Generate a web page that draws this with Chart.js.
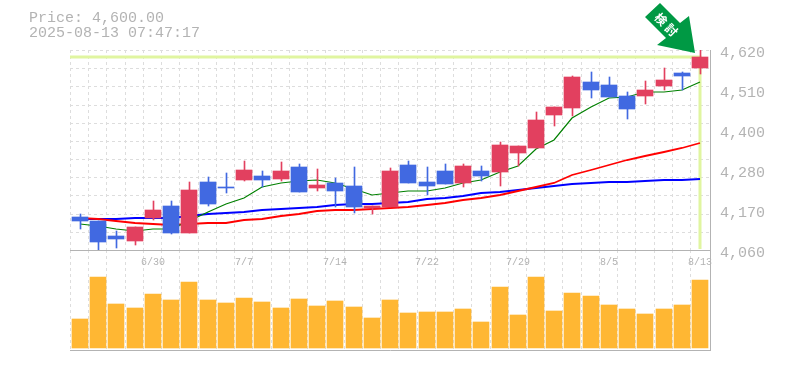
<!DOCTYPE html>
<html>
<head>
<meta charset="utf-8">
<script src="https://cdn.jsdelivr.net/npm/chart.js@4"></script>
<style>
  body { margin: 0; background: #fff; }
  #wrap { position: relative; width: 785px; height: 370px; overflow: hidden; }
  canvas, svg { position: absolute; left: 0; top: 0; }
  #info { position: absolute; left: 29px; top: 11px; font: 15px/15px "Liberation Mono", monospace; color: #b3b3b3; white-space: pre; }
</style>
</head>
<body>
<div id="wrap">
  <canvas id="graficoVol" width="785" height="370"></canvas>
  <canvas id="graficoPrin" width="785" height="370"></canvas>
  <div id="info">Price: 4,600.00
2025-08-13 07:47:17</div>
  <svg width="785" height="370">
    <polygon points="660,3 645,17 666,38 657,45 695,53 689,16 680,23" fill="#009944"/>
    <text transform="translate(668,25) rotate(45)" text-anchor="middle" dominant-baseline="central"
      font-family="Noto Sans CJK JP" font-size="12" font-weight="700" letter-spacing="3" fill="#fff">検討</text>
  </svg>
</div>
<script>
// Datos
const dates = ['6/24','6/25','6/26','6/27','6/30','7/1','7/2','7/3','7/4','7/7','7/8','7/9','7/10','7/11','7/14','7/15','7/16','7/17','7/18','7/22','7/23','7/24','7/25','7/28','7/29','7/30','7/31','8/1','8/4','8/5','8/6','8/7','8/8','8/12','8/13'];
const shownDates = ['6/30','7/7','7/14','7/22','7/29','8/5','8/13'];
const priceLabels = ['4,060','4,170','4,280','4,400','4,510','4,620'];

const opens  = [4152,4141,4099,4085,4150,4183,4108,4250,4236,4256,4267,4259,4292,4234,4248,4239,4178,4180,4298,4250,4281,4248,4281,4278,4332,4346,4438,4458,4530,4522,4491,4491,4519,4556,4570];
const closes = [4141,4082,4091,4124,4172,4108,4228,4189,4234,4284,4256,4281,4222,4242,4225,4180,4183,4281,4248,4239,4245,4295,4267,4354,4351,4424,4460,4544,4508,4488,4455,4508,4536,4547,4600];
const highs  = [4161,4141,4113,4124,4197,4197,4250,4264,4276,4309,4281,4306,4301,4287,4262,4292,4183,4290,4309,4292,4301,4301,4295,4362,4351,4446,4460,4547,4558,4544,4502,4533,4570,4558,4620];
const lows   = [4119,4060,4066,4074,4144,4105,4108,4183,4220,4253,4236,4253,4222,4225,4180,4164,4161,4180,4248,4214,4245,4236,4253,4239,4295,4346,4407,4435,4486,4488,4427,4469,4508,4508,4553];

const maShort = [4132,4127,4120,4114,4119,4120,4142,4167,4189,4205,4237,4247,4253,4257,4249,4230,4215,4219,4224,4224,4235,4249,4256,4279,4295,4343,4368,4430,4460,4486,4489,4503,4503,4508,4530];
const maMid   = [4149,4146,4141,4137,4132,4131,4132,4135,4137,4143,4148,4154,4160,4169,4171,4172,4175,4177,4180,4185,4193,4200,4206,4213,4224,4236,4247,4270,4284,4299,4312,4323,4335,4346,4359];
const maLong  = [4146,4147,4148,4149,4149,4151,4155,4160,4163,4166,4171,4174,4177,4181,4185,4188,4189,4191,4195,4202,4206,4211,4219,4222,4228,4234,4239,4244,4247,4250,4250,4253,4255,4255,4258];

const volumes = [29,71,44,40,54,48,66,48,45,50,46,40,49,42,47,41,30,48,35,36,36,39,26,61,33,71,37,55,52,43,39,34,39,43,68];

const currentPrice = 4600;
const priceMin = 4060;
const priceMax = 4620;

const GRIS = '#b3b3b3';
const GRID = '#ddd';
const ROJO = '#e2405f';
const AZUL = '#4169e1';
const AMARILLO = '#e0f5a0';
const FONT = 'Liberation Mono';

// El eje x va en numero de vela: 18.24px por vela, 70..710px en pantalla
const xMin = -0.548;
const xMax = 34.54;

const candleColors = opens.map((o, i) => closes[i] >= o ? ROJO : AZUL);
const toLine = arr => arr.map((v, i) => ({ x: i, y: v }));

// Redondea los pixeles de la escala para que las barras queden nitidas
function snap(offset) {
  return axis => {
    if (axis.snapped) return;
    axis.snapped = true;
    const orig = axis.getPixelForValue;
    axis.getPixelForValue = function (v, i) {
      return Math.round(orig.call(axis, v, i)) + offset;
    };
  };
}

function xAxis(showLabels, height) {
  return {
    type: 'linear',
    offset: false,
    min: xMin,
    max: xMax,
    grid: { color: GRID, offset: false, drawTicks: false },
    border: { color: GRIS, dash: [3, 3] },
    afterDataLimits: snap(0),
    afterBuildTicks: axis => {
      axis.ticks = dates.map((d, i) => ({ value: i + xMin }));
    },
    afterFit: axis => { axis.height = height; },
    ticks: {
      display: showLabels,
      autoSkip: false,
      maxRotation: 0,
      padding: 6,
      labelOffset: 10,
      color: GRIS,
      font: { family: FONT, size: 10 },
      callback: (v, i) => shownDates.includes(dates[i]) ? dates[i] : ''
    }
  };
}

const configPrin = {
  type: 'bar',
  data: {
    datasets: [{
      label: 'Cuerpo',
      data: opens.map((o, i) => ({ x: i, y: [o, closes[i]] })),
      backgroundColor: candleColors,
      barThickness: 16,
      grouped: false,
      borderWidth: 0,
      order: 1
    }, {
      label: 'Mecha',
      xAxisID: 'xWick',
      data: lows.map((l, i) => ({ x: i, y: [l, highs[i]] })),
      backgroundColor: candleColors,
      barThickness: 1,
      grouped: false,
      borderWidth: 0,
      order: 2
    }, {
      type: 'line',
      label: 'MA corta',
      data: toLine(maShort),
      borderColor: '#008000',
      borderWidth: 1.2,
      pointRadius: 0,
      order: 3
    }, {
      type: 'line',
      label: 'MA media',
      data: toLine(maMid),
      borderColor: '#f00',
      borderWidth: 1.8,
      pointRadius: 0,
      order: 3
    }, {
      type: 'line',
      label: 'MA larga',
      data: toLine(maLong),
      borderColor: '#00f',
      borderWidth: 1.8,
      pointRadius: 0,
      order: 3
    }, {
      type: 'line',
      label: 'Precio actual',
      data: [{ x: xMin, y: currentPrice }, { x: 34, y: currentPrice }, { x: 34, y: priceMin + 3 }],
      borderColor: AMARILLO,
      borderWidth: 3,
      pointRadius: 0,
      order: 4
    }]
  },
  options: {
    responsive: false,
    animation: false,
    layout: { padding: { left: 70, top: 50 } },
    plugins: { legend: { display: false }, tooltip: { enabled: false } },
    scales: {
      x: xAxis(true, 120),
      xWick: {
        type: 'linear',
        display: false,
        offset: false,
        min: xMin,
        max: xMax,
        grid: { display: false, offset: false },
        afterDataLimits: snap(0.5)
      },
      y: {
        type: 'linear',
        position: 'left',
        min: priceMin,
        max: priceMax,
        grid: { color: GRID, drawTicks: false },
        border: { display: false, dash: [3, 3] },
        ticks: { display: false, count: 12 },
        afterDataLimits: snap(0),
        afterFit: axis => { axis.width = 0; }
      },
      yLabels: {
        type: 'linear',
        position: 'right',
        min: priceMin,
        max: priceMax,
        grid: { display: false },
        border: { color: GRIS },
        afterFit: axis => { axis.width = 75; },
        ticks: {
          count: 6,
          padding: 2,
          labelOffset: 3,
          color: GRIS,
          font: { family: FONT, size: 15 },
          callback: (v, i) => priceLabels[i]
        }
      }
    }
  }
};

const configVol = {
  type: 'bar',
  data: {
    datasets: [{
      label: 'Volumen',
      data: volumes.map((v, i) => ({ x: i, y: v })),
      backgroundColor: '#ffb733',
      barThickness: 16,
      borderWidth: 0
    }]
  },
  options: {
    responsive: false,
    animation: false,
    layout: { padding: { left: 70, top: 250 } },
    plugins: { legend: { display: false }, tooltip: { enabled: false } },
    scales: {
      x: xAxis(false, 20),
      y: {
        type: 'linear',
        position: 'right',
        min: -2,
        max: 98,
        grid: { display: false },
        border: { color: GRIS },
        ticks: { display: false },
        afterDataLimits: snap(0),
        afterFit: axis => { axis.width = 75; }
      }
    }
  }
};

new Chart(document.getElementById('graficoVol'), configVol);
new Chart(document.getElementById('graficoPrin'), configPrin);
</script>
</body>
</html>
